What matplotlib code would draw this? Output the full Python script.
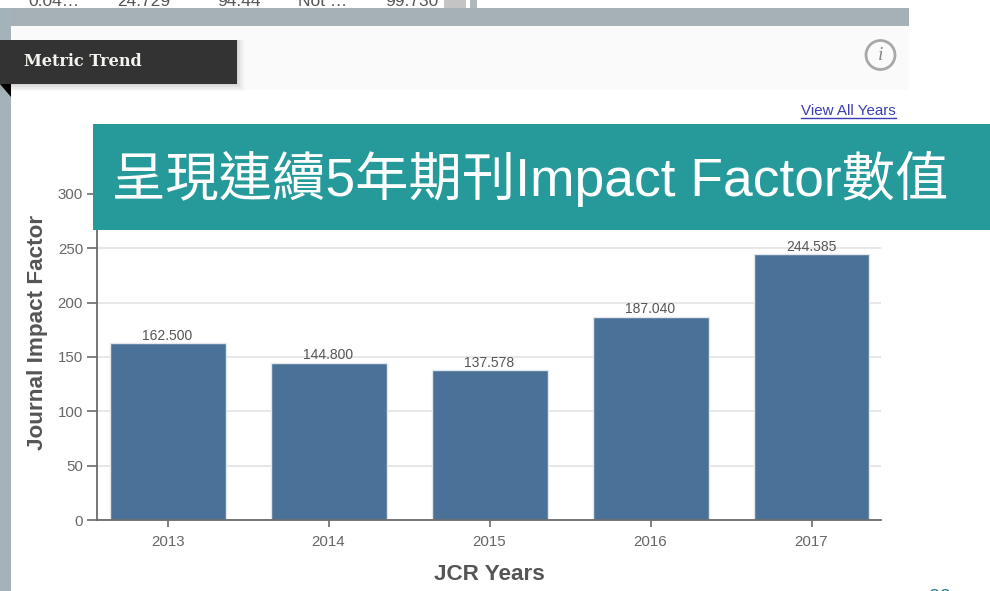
import matplotlib
matplotlib.use("Agg")
import matplotlib.pyplot as plt
from matplotlib.patches import Rectangle, Polygon, Circle

years = ["2013", "2014", "2015", "2016", "2017"]
impact = [162.5, 144.8, 137.578, 187.04, 244.585]
value_labels = ["162.500", "144.800", "137.578", "187.040", "244.585"]
y_ticks = [0, 50, 100, 150, 200, 250, 300]
table_row = ["0.04…", "24.729", "94.44", "Not …", "99.730"]
title = "呈現連續5年期刊Impact Factor數值"

W, H = 990, 591
plt.rcParams["font.family"] = ["Liberation Sans", "Noto Sans CJK TC", "DejaVu Sans"]
fig = plt.figure(figsize=(W / 100, H / 100), dpi=100, facecolor="white")


def full_axes(z):
    a = fig.add_axes([0, 0, 1, 1], zorder=z)
    a.set_xlim(0, W)
    a.set_ylim(H, 0)
    a.axis("off")
    a.patch.set_alpha(0)
    return a


back = full_axes(0)
front = full_axes(5)

# Page background pieces
back.add_patch(Rectangle((0, 8), 909, 18, fc="#a6b1b7", ec="none"))
back.add_patch(Rectangle((0, 8), 11, H - 8, fc="#a4b2ba", ec="none"))
back.add_patch(Rectangle((11, 26), 898, 64, fc="#fafafa", ec="none"))
back.add_patch(Rectangle((444, 0), 22, 8, fc="#c4c4c4", ec="none"))
back.add_patch(Rectangle((470, 0), 7, 8, fc="#b0b8bc", ec="none"))
for x, s in zip([28, 117, 217, 298, 385], table_row):
    back.text(x, 2, s, fontsize=12.5, color="#555555", ha="left", va="center")

# Ribbon header with a soft shadow
for grow, alpha in zip([7, 5, 3, 1], [0.05, 0.07, 0.09, 0.12]):
    back.add_patch(Rectangle((0, 40), 237 + grow, 44 + grow, fc="#777777", ec="none", alpha=alpha))
back.add_patch(Rectangle((0, 40), 237, 44, fc="#333333", ec="none"))
back.add_patch(Polygon([(0, 84), (11, 84), (11, 97)], closed=True, fc="black", ec="none"))
back.text(24, 61.5, "Metric Trend", fontsize=11.6, fontweight="bold", color="#f5f5f0",
          family="DejaVu Serif", ha="left", va="center")

# Info icon and link
back.add_patch(Circle((880.5, 55), 14.5, fc="none", ec="#a8a8a8", lw=2))
back.text(880.5, 55, "i", fontsize=14, style="italic", color="#888888",
          family="Liberation Serif", ha="center", va="center")
back.text(896, 111, "View All Years", fontsize=10.9, color="#3c3cb4", ha="right", va="center")
back.plot([801, 896], [117.5, 117.5], color="#3c3cb4", lw=1)

# Chart
left, right, top, bottom = 97, 881, 150, 520
ax = fig.add_axes([left / W, 1 - bottom / H, (right - left) / W, (bottom - top) / H], zorder=2)
ax.patch.set_alpha(0)
positions = list(range(len(years)))
ax.bar(positions, impact, width=116 / 161, color="#4a7299", edgecolor="#e4e8ec", linewidth=1.0, zorder=3)
ax.set_xlim((left - 167.5) / 161, (right - 167.5) / 161)
ax.set_ylim(0, (bottom - top) / 1.0867)
ax.set_xticks(positions, years)
ax.set_yticks(y_ticks)
ax.grid(axis="y", color="#e0e0e0", lw=1.1, zorder=0)
ax.set_axisbelow(True)
for side in ("top", "right"):
    ax.spines[side].set_visible(False)
for side in ("left", "bottom"):
    ax.spines[side].set_color("#6b6b6b")
    ax.spines[side].set_linewidth(1.3)
ax.spines["bottom"].set_zorder(4)
ax.tick_params(axis="x", colors="#6b6b6b", labelcolor="#666666", labelsize=10.8, length=5, width=1.2, pad=6)
ax.tick_params(axis="y", colors="#6b6b6b", labelcolor="#666666", labelsize=10.8, length=7, width=1.2, pad=3)
for p, v, s in zip(positions, impact, value_labels):
    ax.annotate(s, (p, v), xytext=(0, 0.5), textcoords="offset points", ha="center", va="bottom",
                fontsize=10, color="#555555", zorder=4)
front.text(38, 332, "Journal Impact Factor", rotation=90, fontsize=16.2, fontweight="bold",
           color="#555555", ha="center", va="center")
front.text(489, 575, "JCR Years", fontsize=16.2, fontweight="bold", color="#555555", ha="center", va="center")

# Teal banner
front.add_patch(Rectangle((93, 124), W - 93, 106, fc="#269a9a", ec="none"))
front.text(112, 179, title, fontsize=38.4, color="white", ha="left", va="center")
front.text(940, 597, "22", fontsize=14, color="#1f7f86", ha="center", va="center", clip_on=False)

fig.savefig("out.png", dpi=100)
